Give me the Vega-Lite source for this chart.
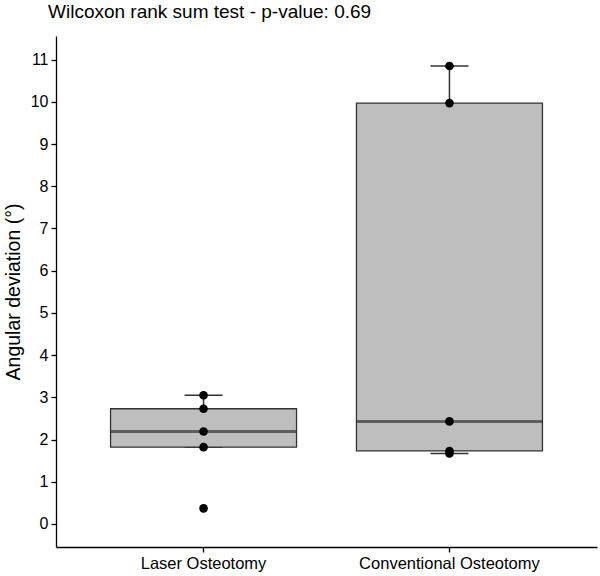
{
  "$schema": "https://vega.github.io/schema/vega-lite/v6.json",
  "width": 541,
  "height": 511,
  "autosize": {"type": "none"},
  "padding": {"left": 56, "top": 36, "right": 3, "bottom": 29},
  "background": "white",
  "title": {
    "text": "Wilcoxon rank sum test - p-value: 0.69",
    "anchor": "start",
    "frame": "group",
    "dx": -8,
    "offset": 14,
    "font": "Liberation Sans",
    "fontSize": 19,
    "fontWeight": "normal",
    "color": "#000000"
  },
  "config": {
    "view": {"stroke": null},
    "font": "Liberation Sans",
    "axis": {
      "domainColor": "#000000",
      "domainWidth": 1.3,
      "tickColor": "#000000",
      "tickWidth": 1.3,
      "tickSize": 5,
      "labelColor": "#000000",
      "labelFont": "Liberation Sans",
      "titleFont": "Liberation Sans",
      "titleColor": "#000000",
      "labelLimit": 400,
      "grid": false
    }
  },
  "data": {
    "values": [
      {"group": "Laser Osteotomy", "deviation": 3.05},
      {"group": "Laser Osteotomy", "deviation": 2.73},
      {"group": "Laser Osteotomy", "deviation": 2.19},
      {"group": "Laser Osteotomy", "deviation": 1.82},
      {"group": "Laser Osteotomy", "deviation": 0.37},
      {"group": "Conventional Osteotomy", "deviation": 10.85},
      {"group": "Conventional Osteotomy", "deviation": 9.97},
      {"group": "Conventional Osteotomy", "deviation": 2.43},
      {"group": "Conventional Osteotomy", "deviation": 1.73},
      {"group": "Conventional Osteotomy", "deviation": 1.67}
    ]
  },
  "encoding": {
    "x": {
      "field": "group",
      "type": "nominal",
      "sort": ["Laser Osteotomy", "Conventional Osteotomy"],
      "scale": {"paddingInner": 0, "paddingOuter": 0.1},
      "axis": {"title": null, "labelAngle": 0, "labelFontSize": 16.5, "labelPadding": 3, "labelLimit": 400}
    },
    "y": {
      "field": "deviation",
      "type": "quantitative",
      "scale": {"domain": [-0.545, 11.56], "nice": false, "zero": false},
      "axis": {
        "title": "Angular deviation (°)",
        "titleFontSize": 19.5,
        "titleFontWeight": "normal",
        "titlePadding": 7,
        "values": [0, 1, 2, 3, 4, 5, 6, 7, 8, 9, 10, 11],
        "labelFontSize": 16,
        "labelPadding": 3
      }
    }
  },
  "layer": [
    {
      "mark": {
        "type": "boxplot",
        "extent": 1.5,
        "size": 186,
        "outliers": false,
        "color": "#bebebe",
        "box": {"stroke": "#333333", "strokeWidth": 1.3, "fill": "#bebebe"},
        "median": {"color": "#333333", "thickness": 3},
        "rule": {"color": "#333333", "strokeWidth": 1.5},
        "ticks": {"color": "#333333", "size": 38, "thickness": 1.6}
      }
    },
    {
      "mark": {"type": "point", "filled": true, "color": "#000000", "size": 75, "opacity": 1}
    }
  ]
}
